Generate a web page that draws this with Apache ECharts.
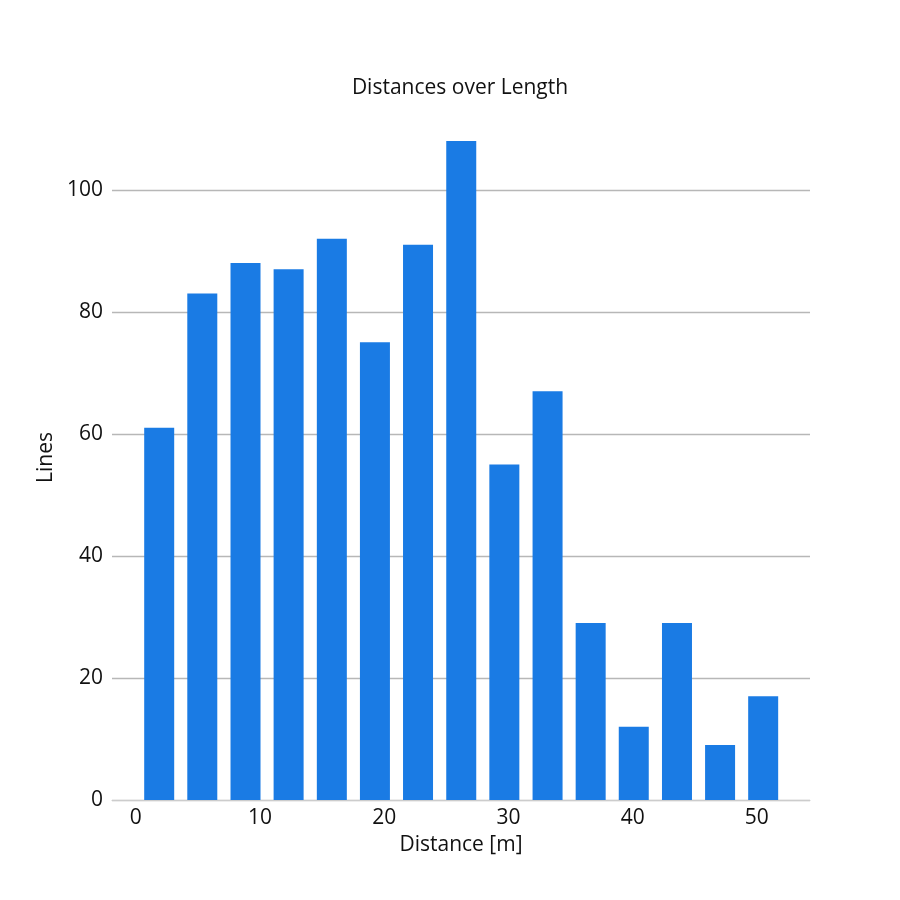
<!DOCTYPE html>
<html>
<head>
<meta charset="utf-8">
<script src="https://cdn.jsdelivr.net/npm/echarts@6/dist/echarts.min.js"></script>
<style>html,body{margin:0;padding:0;background:#fff;}#c{width:900px;height:900px;}</style>
</head>
<body>
<div id="c"></div>
<script>
const title = 'Distances over Length';
const xName = 'Distance [m]';
const yName = 'Lines';
const binCenters = [1.88, 5.35, 8.83, 12.30, 15.78, 19.25, 22.72, 26.20, 29.67, 33.15, 36.62, 40.09, 43.57, 47.04, 50.51];
const lineCounts = [61, 83, 88, 87, 92, 75, 91, 108, 55, 67, 29, 12, 29, 9, 17];
const xTickLabels = [0, 10, 20, 30, 40, 50];
const yTickLabels = [0, 20, 40, 60, 80, 100];

const chart = echarts.init(document.getElementById('c'), null, {renderer: 'canvas'});
const font = '"Open Sans", "Noto Sans", sans-serif';
const txt = '#111';
chart.setOption({
  backgroundColor: '#ffffff',
  animation: false,
  graphic: [{
    type: 'text', x: 460, y: 88,
    style: {text: title, fontFamily: font, fontSize: 21, fill: txt, align: 'center', verticalAlign: 'middle'}
  }],
  grid: {left: 112, right: 90, top: 141, bottom: 100, containLabel: false},
  xAxis: {
    type: 'value', min: -1.92, max: 54.28,
    name: xName, nameLocation: 'middle', nameGap: 35,
    nameTextStyle: {fontFamily: font, fontSize: 21, color: txt},
    axisLine: {show: true, lineStyle: {color: '#cccccc', width: 1}},
    axisTick: {show: false},
    splitLine: {show: false},
    axisLabel: {customValues: xTickLabels, fontFamily: font, fontSize: 21, color: txt, margin: 8}
  },
  yAxis: {
    type: 'value', min: 0, max: 108, interval: 20,
    name: yName, nameLocation: 'middle', nameGap: 53,
    nameTextStyle: {fontFamily: font, fontSize: 21, color: txt, padding: [0, 0, 0, 26]},
    axisLine: {show: false}, axisTick: {show: false},
    splitLine: {show: true, showMaxLine: false, lineStyle: {color: '#b7b7b7', width: 1.4}},
    axisLabel: {customValues: yTickLabels, fontFamily: font, fontSize: 21, color: txt, margin: 9}
  },
  series: [{
    type: 'bar',
    barWidth: 30,
    itemStyle: {color: '#1a7be4'},
    data: binCenters.map((c, i) => [c, lineCounts[i]])
  }]
});
</script>
</body>
</html>
